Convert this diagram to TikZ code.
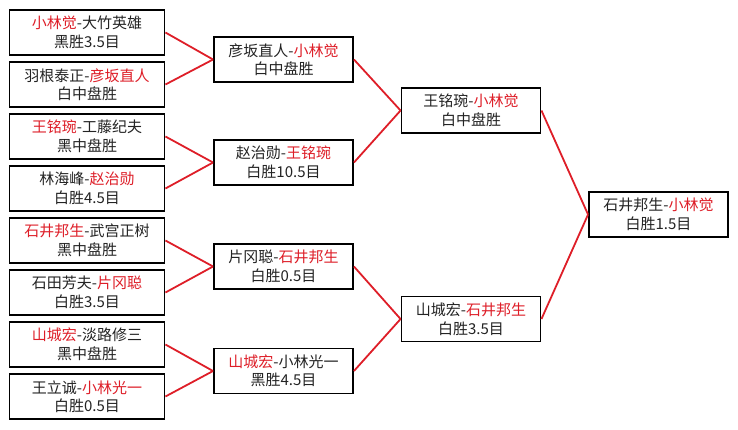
\documentclass[tikz,border=0pt]{standalone}
\usepackage{fontspec}
\setmainfont{Noto Sans CJK SC}
\definecolor{winred}{RGB}{222,30,40}
\definecolor{txt}{RGB}{35,35,35}
\newcommand{\rd}[1]{\textcolor{winred}{#1}}
\begin{document}
\begin{tikzpicture}[x=1pt,y=-1pt,
  game/.style={draw=black, line width=1.9pt, fill=white, inner sep=0pt,
    minimum height=45pt, align=center, text=txt,
    font=\fontsize{15}{18.5}\selectfont},
  r1/.style={game, minimum width=155pt},
  r2/.style={game, minimum width=139pt},
  link/.style={draw=winred, line width=1.8pt}]
\useasboundingbox (0,0) rectangle (738,429);
% round 1
\node[r1] (a1) at (87,32.5)  {\rd{小林觉}-大竹英雄\\黑胜3.5目};
\node[r1] (a2) at (87,84.5)  {羽根泰正-\rd{彦坂直人}\\白中盘胜};
\node[r1] (a3) at (87,136.5) {\rd{王铭琬}-工藤纪夫\\黑中盘胜};
\node[r1] (a4) at (87,188.5) {林海峰-\rd{赵治勋}\\白胜4.5目};
\node[r1] (a5) at (87,240.5) {\rd{石井邦生}-武宫正树\\黑中盘胜};
\node[r1] (a6) at (87,292.5) {石田芳夫-\rd{片冈聪}\\白胜3.5目};
\node[r1] (a7) at (87,344.5) {\rd{山城宏}-淡路修三\\黑中盘胜};
\node[r1] (a8) at (87,396.5) {王立诚-\rd{小林光一}\\白胜0.5目};
% round 2
\node[r2] (b1) at (283.5,59.5)  {彦坂直人-\rd{小林觉}\\白中盘胜};
\node[r2] (b2) at (283.5,162.5) {赵治勋-\rd{王铭琬}\\白胜10.5目};
\node[r2] (b3) at (283.5,266.5) {片冈聪-\rd{石井邦生}\\白胜0.5目};
\node[r2] (b4) at (283.5,371)   {\rd{山城宏}-小林光一\\黑胜4.5目};
% round 3
\node[r2] (c1) at (471,110.5) {王铭琬-\rd{小林觉}\\白中盘胜};
\node[r2] (c2) at (471,319)   {山城宏-\rd{石井邦生}\\白胜3.5目};
% final
\node[r2] (d1) at (658.5,214.5) {石井邦生-\rd{小林觉}\\白胜1.5目};
% connectors
\foreach \s/\t in {a1/b1,a2/b1,a3/b2,a4/b2,a5/b3,a6/b3,a7/b4,a8/b4,b1/c1,b2/c1,b3/c2,b4/c2,c1/d1,c2/d1}
  \path[link] (\s.east) -- (\t.west);
\end{tikzpicture}
\end{document}
